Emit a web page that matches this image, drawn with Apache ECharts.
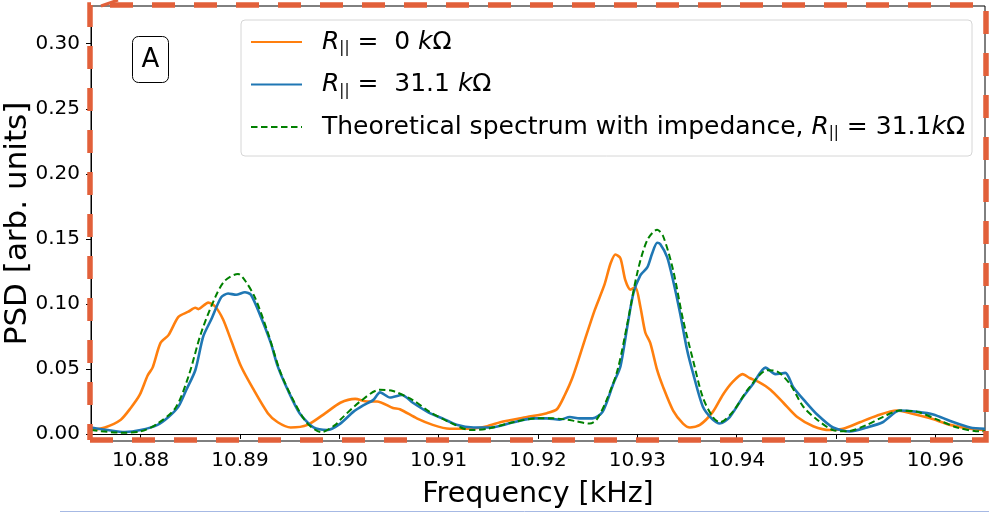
<!DOCTYPE html>
<html>
<head>
<meta charset="utf-8">
<script src="https://cdn.jsdelivr.net/npm/echarts@6/dist/echarts.min.js"></script>
<style>
html,body{margin:0;padding:0;background:#fff;}
#chart{width:989px;height:512px;}
</style>
</head>
<body>
<div id="chart"></div>
<script>
// ---- Data ----
const xTicks = [10.88, 10.89, 10.90, 10.91, 10.92, 10.93, 10.94, 10.95, 10.96];
const yTicks = [0.00, 0.05, 0.10, 0.15, 0.20, 0.25, 0.30];

const orangeFreq = [10.8750, 10.8764, 10.8780, 10.8790, 10.8799, 10.8807, 10.8812, 10.8820, 10.8828, 10.8838,
  10.8848, 10.8855, 10.8858, 10.8868, 10.8875, 10.8883, 10.8891, 10.8901, 10.8913, 10.8928,
  10.8938, 10.8951, 10.8968, 10.8986, 10.9001, 10.9016, 10.9028, 10.9038, 10.9054, 10.9061,
  10.9078, 10.9094, 10.9111, 10.9129, 10.9149, 10.9162, 10.9189, 10.9209, 10.9219, 10.9227,
  10.9235, 10.9247, 10.9257, 10.9267, 10.9273, 10.9278, 10.9283, 10.9288, 10.9293, 10.9298,
  10.9303, 10.9308, 10.9313, 10.9320, 10.9326, 10.9336, 10.9346, 10.9353, 10.9363, 10.9376,
  10.9386, 10.9396, 10.9406, 10.9413, 10.9422, 10.9434, 10.9447, 10.9461, 10.9477, 10.9494,
  10.9507, 10.9524, 10.9541, 10.9561, 10.9575, 10.9595, 10.9615, 10.9635, 10.9650];
const orangePSD = [0.003, 0.005, 0.011, 0.020, 0.030, 0.045, 0.051, 0.070, 0.076, 0.090,
  0.094, 0.097, 0.096, 0.101, 0.098, 0.088, 0.072, 0.052, 0.035, 0.016,
  0.009, 0.005, 0.007, 0.016, 0.024, 0.027, 0.025, 0.025, 0.020, 0.019,
  0.012, 0.007, 0.004, 0.004, 0.006, 0.009, 0.013, 0.016, 0.019, 0.030,
  0.044, 0.072, 0.095, 0.115, 0.131, 0.138, 0.135, 0.118, 0.111, 0.113,
  0.098, 0.078, 0.070, 0.049, 0.036, 0.018, 0.008, 0.005, 0.007, 0.017,
  0.030, 0.040, 0.046, 0.043, 0.040, 0.034, 0.024, 0.013, 0.006, 0.003,
  0.004, 0.009, 0.014, 0.018, 0.016, 0.012, 0.007, 0.004, 0.003];

const blueFreq = [10.8750, 10.8767, 10.8784, 10.8800, 10.8817, 10.8828, 10.8838, 10.8846, 10.8855, 10.8863,
  10.8871, 10.8881, 10.8888, 10.8896, 10.8905, 10.8911, 10.8921, 10.8931, 10.8938, 10.8948,
  10.8960, 10.8974, 10.8988, 10.9001, 10.9014, 10.9024, 10.9034, 10.9041, 10.9051, 10.9063,
  10.9074, 10.9091, 10.9104, 10.9118, 10.9135, 10.9152, 10.9175, 10.9195, 10.9209, 10.9222,
  10.9232, 10.9242, 10.9255, 10.9265, 10.9276, 10.9283, 10.9290, 10.9296, 10.9303, 10.9310,
  10.9315, 10.9320, 10.9323, 10.9330, 10.9336, 10.9343, 10.9350, 10.9356, 10.9366, 10.9376,
  10.9383, 10.9393, 10.9406, 10.9416, 10.9429, 10.9439, 10.9449, 10.9457, 10.9469, 10.9481,
  10.9497, 10.9514, 10.9531, 10.9547, 10.9564, 10.9582, 10.9598, 10.9615, 10.9635, 10.9650];
const bluePSD = [0.005, 0.003, 0.0015, 0.003, 0.007, 0.013, 0.021, 0.034, 0.049, 0.075,
  0.088, 0.105, 0.108, 0.107, 0.109, 0.107, 0.090, 0.070, 0.052, 0.034,
  0.016, 0.005, 0.003, 0.008, 0.017, 0.022, 0.026, 0.032, 0.028, 0.030,
  0.024, 0.016, 0.012, 0.007, 0.005, 0.005, 0.009, 0.012, 0.012, 0.011,
  0.013, 0.012, 0.012, 0.017, 0.039, 0.052, 0.083, 0.108, 0.122, 0.128,
  0.139, 0.147, 0.146, 0.136, 0.118, 0.093, 0.065, 0.047, 0.021, 0.011,
  0.008, 0.013, 0.028, 0.038, 0.051, 0.046, 0.047, 0.036, 0.025, 0.015,
  0.005, 0.002, 0.005, 0.009, 0.018, 0.017, 0.015, 0.010, 0.005, 0.004];

const theoryFreq = [10.8750, 10.8780, 10.8800, 10.8817, 10.8835, 10.8848, 10.8861, 10.8875, 10.8885, 10.8898,
  10.8905, 10.8915, 10.8928, 10.8941, 10.8955, 10.8968, 10.8982, 10.8996, 10.9001, 10.9021,
  10.9041, 10.9054, 10.9074, 10.9091, 10.9111, 10.9132, 10.9149, 10.9175, 10.9199, 10.9215,
  10.9229, 10.9237, 10.9252, 10.9259, 10.9269, 10.9280, 10.9290, 10.9300, 10.9310, 10.9320,
  10.9326, 10.9336, 10.9346, 10.9356, 10.9366, 10.9376, 10.9383, 10.9396, 10.9413, 10.9431,
  10.9441, 10.9454, 10.9467, 10.9481, 10.9497, 10.9511, 10.9531, 10.9547, 10.9564, 10.9582,
  10.9602, 10.9622, 10.9645, 10.9650];
const theoryPSD = [0.003, 0.001, 0.002, 0.008, 0.020, 0.044, 0.078, 0.105, 0.118, 0.123,
  0.118, 0.105, 0.078, 0.047, 0.024, 0.008, 0.0015, 0.007, 0.011, 0.025,
  0.034, 0.033, 0.026, 0.017, 0.009, 0.003, 0.004, 0.009, 0.012, 0.012,
  0.011, 0.010, 0.008, 0.011, 0.026, 0.049, 0.085, 0.124, 0.149, 0.157,
  0.152, 0.126, 0.088, 0.057, 0.028, 0.013, 0.009, 0.017, 0.036, 0.049,
  0.048, 0.038, 0.021, 0.011, 0.003, 0.002, 0.007, 0.013, 0.018, 0.017,
  0.011, 0.005, 0.002, 0.002];

const seriesNames = ['R|| = 0 kΩ', 'R|| = 31.1 kΩ', 'Theoretical spectrum with impedance, R|| = 31.1kΩ'];
const legendRich = [
  '{sp| }{i|R}{s|||}{n| =  0 }{i|k}{n|Ω}',
  '{sp| }{i|R}{s|||}{n| =  31.1 }{i|k}{n|Ω}',
  '{sp| }{n|Theoretical spectrum with impedance, }{i|R}{s|||}{n| = 31.1}{i|k}{n|Ω}'
];

const zip = (a, b) => a.map((v, i) => [v, b[i]]);
const FONT = 'DejaVu Sans';
const LF = 25;

const chart = echarts.init(document.getElementById('chart'), null, {renderer: 'canvas'});
chart.setOption({
  animation: false,
  backgroundColor: '#fff',
  grid: {left: 91, right: 4, top: 6, bottom: 71, outerBoundsMode: 'none', containLabel: false,
    show: true, borderColor: '#000', borderWidth: 1, backgroundColor: 'transparent'},
  xAxis: {
    type: 'value', min: 10.875, max: 10.965,
    name: 'Frequency [kHz]', nameLocation: 'middle', nameGap: 39, nameMoveOverlap: false,
    nameTextStyle: {fontFamily: FONT, fontSize: 28.5, color: '#000'},
    splitLine: {show: false},
    axisLine: {show: true, lineStyle: {color: '#000', width: 1}},
    axisTick: {show: true, length: 5, customValues: xTicks, lineStyle: {color: '#000'}},
    axisLabel: {customValues: xTicks, formatter: v => v.toFixed(2), fontFamily: FONT, fontSize: 20, color: '#000', margin: 10}
  },
  yAxis: {
    type: 'value', min: -0.0054, max: 0.329,
    name: 'PSD [arb. units]', nameLocation: 'middle', nameGap: 58, nameRotate: 90, nameMoveOverlap: false,
    nameTextStyle: {fontFamily: FONT, fontSize: 31, color: '#000'},
    splitLine: {show: false},
    axisLine: {show: true, lineStyle: {color: '#000', width: 1}},
    axisTick: {show: true, length: 5, customValues: yTicks, lineStyle: {color: '#000'}},
    axisLabel: {customValues: yTicks, formatter: v => v.toFixed(2), fontFamily: FONT, fontSize: 20, color: '#000', margin: 11}
  },
  legend: {
    orient: 'vertical', left: 241, top: 20,
    padding: [8, 7, 15, 9],
    itemWidth: 51, itemHeight: 14, itemGap: 14.5,
    itemStyle: {opacity: 0},
    backgroundColor: 'rgba(255,255,255,0.8)', borderColor: '#d6d6d6', borderWidth: 1, borderRadius: 4,
    data: seriesNames,
    formatter: name => legendRich[seriesNames.indexOf(name)],
    textStyle: {
      fontFamily: FONT, fontSize: LF, color: '#000', lineHeight: 28,
      rich: {
        sp: {width: 15, fontSize: LF},
        i: {fontFamily: FONT, fontStyle: 'italic', fontSize: LF, color: '#000'},
        n: {fontFamily: FONT, fontSize: LF, color: '#000'},
        s: {fontFamily: FONT, fontSize: 15, lineHeight: 11, verticalAlign: 'bottom', color: '#000'}
      }
    }
  },
  series: [
    {name: seriesNames[0], type: 'line', data: zip(orangeFreq, orangePSD), showSymbol: false, symbol: 'none', smooth: 0.25,
      lineStyle: {color: '#ff7f0e', width: 2.6}, itemStyle: {color: '#ff7f0e'}, z: 2},
    {name: seriesNames[1], type: 'line', data: zip(blueFreq, bluePSD), showSymbol: false, symbol: 'none', smooth: 0.25,
      lineStyle: {color: '#1f77b4', width: 2.6}, itemStyle: {color: '#1f77b4'}, z: 3},
    {name: seriesNames[2], type: 'line', data: zip(theoryFreq, theoryPSD), showSymbol: false, symbol: 'none', smooth: 0.3,
      lineStyle: {color: '#008000', width: 2, type: [6.5, 3.5]}, itemStyle: {color: '#008000'}, z: 4}
  ],
  graphic: [
    {type: 'polyline', z: 100, silent: true,
      shape: {points: [[90, 440], [986, 440], [986, 5], [90, 5], [90, 440]]},
      style: {fill: null, stroke: '#e2603a', lineWidth: 5.5, lineDash: [23, 19]}},
    {type: 'line', z: 100, silent: true, shape: {x1: 101, y1: 6, x2: 118, y2: 0},
      style: {stroke: '#e2603a', lineWidth: 3}},
    {type: 'line', z: 100, silent: true, shape: {x1: 60, y1: 511.5, x2: 989, y2: 511.5},
      style: {stroke: '#a6b9e4', lineWidth: 1}},
    {type: 'group', z: 90, children: [
      {type: 'rect', shape: {x: 132.5, y: 36.5, width: 36, height: 46, r: 6},
        style: {fill: '#fff', stroke: '#000', lineWidth: 1}},
      {type: 'text', style: {text: 'A', x: 150.5, y: 60, align: 'center', verticalAlign: 'middle',
        fontFamily: FONT, fontSize: 26, fill: '#000'}}
    ]}
  ]
});
</script>
</body>
</html>
